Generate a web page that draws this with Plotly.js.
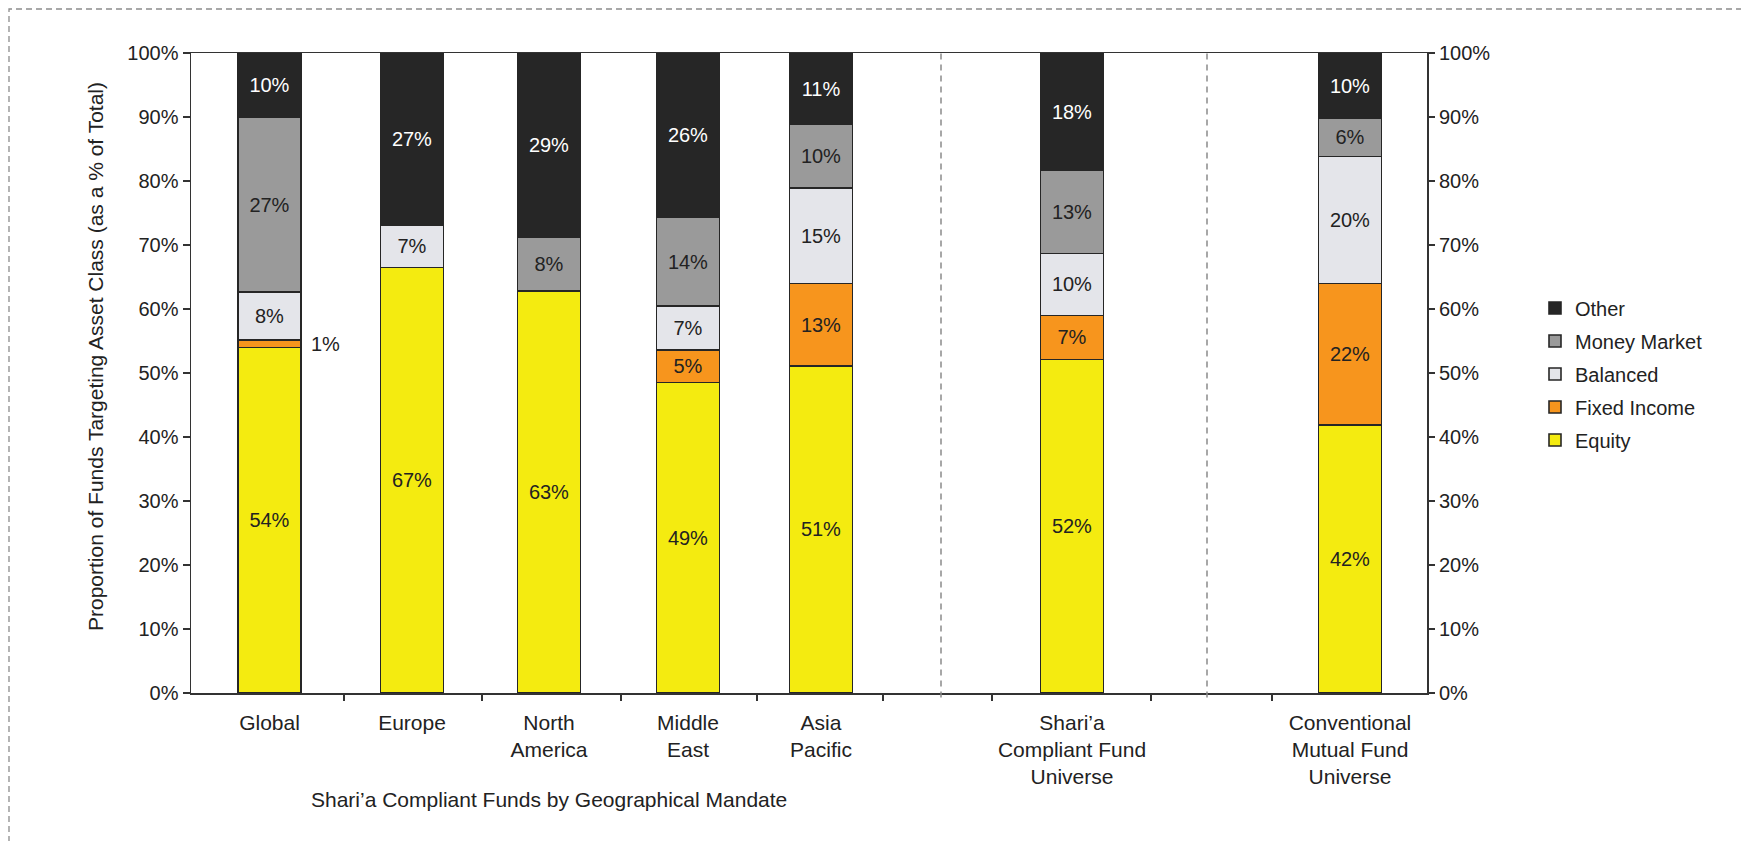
<!DOCTYPE html>
<html>
<head>
<meta charset="utf-8">
<script src="https://cdn.plot.ly/plotly-3.0.1.min.js"></script>
<style>html,body{margin:0;padding:0;background:#fff;}#chart{width:1741px;height:841px;}</style>
</head>
<body>
<div id="chart"></div>
<script>
// ---- data ----
var categories = ["Global", "Europe", "North<br>America", "Middle<br>East", "Asia<br>Pacific",
  "Shari’a<br>Compliant Fund<br>Universe", "Conventional<br>Mutual Fund<br>Universe"];
var equity      = [54.0, 66.5, 62.8, 48.5, 51.1, 52.1, 41.9];
var fixedIncome = [1.2,  0,    0,    5.1,  12.9, 6.9,  22.1];
var balanced    = [7.5,  6.6,  0,    6.9,  14.9, 9.7,  19.8];
var moneyMarket = [27.2, 0,    8.4,  13.8, 10.0, 13.0, 6.0];
var other       = [10.1, 26.9, 28.8, 25.7, 11.1, 18.3, 10.2];

var equityLabels      = ["54%", "67%", "63%", "49%", "51%", "52%", "42%"];
var fixedIncomeLabels = ["1%",  "",    "",    "5%",  "13%", "7%",  "22%"];
var balancedLabels    = ["8%",  "7%",  "",    "7%",  "15%", "10%", "20%"];
var moneyMarketLabels = ["27%", "",    "8%",  "14%", "10%", "13%", "6%"];
var otherLabels       = ["10%", "27%", "29%", "26%", "11%", "18%", "10%"];

var yTickVals   = [0, 10, 20, 30, 40, 50, 60, 70, 80, 90, 100];
var yTickLabels = ["0%", "10%", "20%", "30%", "40%", "50%", "60%", "70%", "80%", "90%", "100%"];

// ---- layout positions (axis units) ----
var xPos = [0.785, 2.21, 3.58, 4.97, 6.30, 8.81, 11.59];
var sepTicks = [1.53, 2.91, 4.30, 5.66, 6.92, 8.01, 9.60, 10.81];
var dividers = [7.50, 10.16];

var FONT = '"Liberation Sans", Arial, sans-serif';
var colors = {eq: '#F4EB10', fi: '#F7951D', ba: '#E4E5EA', mm: '#9A9A9A', ot: '#262626'};

function barTrace(name, vals, labels, color, textColor, rank, hideIdx) {
  var t = labels.slice();
  if (hideIdx !== undefined) t[hideIdx] = "";
  return {
    type: 'bar', name: name, x: xPos, y: vals, text: t,
    width: 0.63,
    textposition: 'inside', insidetextanchor: 'middle', textangle: 0,
    constraintext: 'none',
    textfont: {family: FONT, size: 20, color: textColor},
    marker: {color: color, line: {color: '#262626', width: 1.6}},
    hoverinfo: 'skip', legendgroup: name, legendrank: rank
  };
}

var data = [
  barTrace('Equity', equity, equityLabels, colors.eq, '#222', 5),
  barTrace('Fixed Income', fixedIncome, fixedIncomeLabels, colors.fi, '#222', 4, 0),
  barTrace('Balanced', balanced, balancedLabels, colors.ba, '#222', 3),
  barTrace('Money Market', moneyMarket, moneyMarketLabels, colors.mm, '#222', 2),
  barTrace('Other', other, otherLabels, colors.ot, '#ffffff', 1),
  // carrier for the right-hand axis (draws nothing)
  {type: 'scatter', mode: 'none', x: xPos, y: equity, yaxis: 'y2', showlegend: false, hoverinfo: 'skip'}
];

var shapes = dividers.map(function (d) {
  return {type: 'line', xref: 'x', yref: 'paper', x0: d, x1: d, y0: -0.007, y1: 1,
    line: {color: '#8a8a8a', width: 1.5, dash: '6px,5px'}};
});
shapes.push({type: 'rect', xref: 'paper', yref: 'paper',
  x0: (9 - 191) / 1236, x1: (1750 - 191) / 1236, y0: (693 - 850) / 640, y1: (693 - 9) / 640,
  line: {color: '#8c8c8c', width: 1.3, dash: '6px,4px'}, fillcolor: 'rgba(0,0,0,0)'});

var annotations = [
  {xref: 'x', yref: 'y', x: xPos[0], y: equity[0] + fixedIncome[0] / 2, xshift: 56,
    xanchor: 'center', yanchor: 'middle',
    text: fixedIncomeLabels[0], showarrow: false, font: {family: FONT, size: 20, color: '#222'}},
  {xref: 'paper', yref: 'paper', x: (95 - 191) / 1236, y: (693 - 357) / 640,
    xanchor: 'center', yanchor: 'middle',
    text: 'Proportion of Funds Targeting Asset Class (as a % of Total)', textangle: -90,
    showarrow: false, font: {family: FONT, size: 21, color: '#222'}},
  {xref: 'paper', yref: 'paper', x: (549 - 191) / 1236, y: (693 - 799) / 640,
    xanchor: 'center', yanchor: 'middle',
    text: 'Shari’a Compliant Funds by Geographical Mandate',
    showarrow: false, font: {family: FONT, size: 21, color: '#222'}}
];

var yAxisCommon = {
  range: [0, 100], tickmode: 'array', tickvals: yTickVals, ticktext: yTickLabels,
  ticks: 'outside', ticklen: 7, tickwidth: 1.5, tickcolor: '#333',
  showgrid: false, zeroline: false, fixedrange: true,
  tickfont: {family: FONT, size: 20, color: '#222'}
};

var layout = {
  width: 1741, height: 841,
  margin: {l: 191, r: 314, t: 53, b: 148},
  paper_bgcolor: '#ffffff', plot_bgcolor: '#ffffff',
  barmode: 'stack', showlegend: true,
  font: {family: FONT, size: 20, color: '#222'},
  xaxis: {
    type: 'linear', range: [0, 12.36], fixedrange: true,
    tickmode: 'array', tickvals: xPos, ticktext: categories,
    ticks: '', showgrid: false, zeroline: false,
    showline: true, linecolor: '#333', linewidth: 1.5, mirror: true,
    tickfont: {family: FONT, size: 21, color: '#222'},
    ticklabelstandoff: 10,
    minor: {tickmode: 'array', tickvals: sepTicks, ticks: 'outside', ticklen: 6,
      tickwidth: 1.5, tickcolor: '#333', showgrid: false}
  },
  yaxis: Object.assign({}, yAxisCommon, {
    showline: true, linecolor: '#333', linewidth: 1.5, mirror: true
  }),
  yaxis2: Object.assign({}, yAxisCommon, {
    overlaying: 'y', side: 'right', anchor: 'x', showline: false
  }),
  legend: {
    x: (1535 - 191) / 1236, xanchor: 'left', y: (693 - 374) / 640, yanchor: 'middle',
    traceorder: 'grouped', tracegroupgap: 4,
    font: {family: FONT, size: 20, color: '#222'}, bgcolor: 'rgba(0,0,0,0)'
  },
  shapes: shapes,
  annotations: annotations
};

Plotly.newPlot('chart', data, layout, {staticPlot: true, displayModeBar: false});
</script>
</body>
</html>
